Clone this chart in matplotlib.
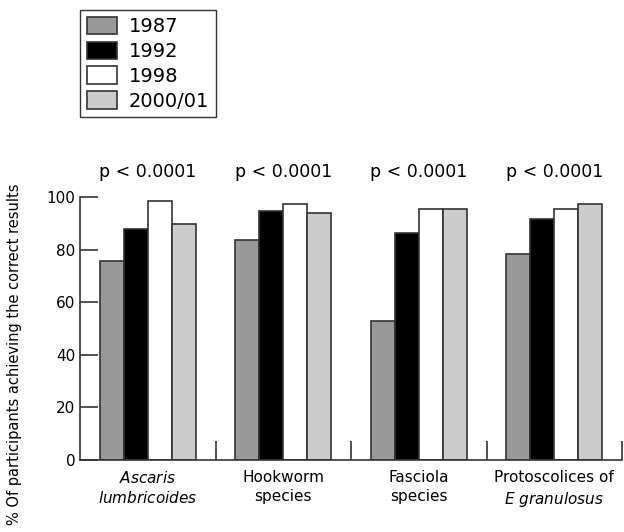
import matplotlib
matplotlib.use("Agg")
from matplotlib import pyplot as plt
from matplotlib.patches import Patch
import numpy as np

years = ['1987', '1992', '1998', '2000/01']
categories = ['$\\it{Ascaris}$\n$\\it{lumbricoides}$', 'Hookworm\nspecies',
              'Fasciola\nspecies', 'Protoscolices of\n$\\it{E\\ granulosus}$']
values_1987 = [75.5, 83.5, 52.8, 78.5]
values_1992 = [87.7, 94.8, 86.2, 91.8]
values_1998 = [98.6, 97.3, 95.5, 95.5]
values_2000 = [89.7, 93.8, 95.5, 97.3]
p_labels = ['p < 0.0001'] * 4

colors = ['#999999', '#000000', '#ffffff', '#cccccc']
edge = '#333333'

plt.rcParams['font.family'] = 'DejaVu Sans'
fig = plt.figure(figsize=(6.24, 5.32), dpi=100)
ax = fig.add_axes([80 / 624, 1 - 460 / 532, 542 / 624, 263 / 532])

x = np.arange(len(categories))
width = 0.177
series = [values_1987, values_1992, values_1998, values_2000]
for i, vals in enumerate(series):
    ax.bar(x + (i - 1.5) * width, vals, width, color=colors[i],
           edgecolor=edge, linewidth=1.2, label=years[i])

ax.set_xlim(-0.5, 3.5)
ax.set_ylim(0, 100)
ax.set_yticks(range(0, 101, 20))
ax.tick_params(axis='y', direction='in', length=13, width=1.2,
               labelsize=11, colors='#333333', labelcolor='black')

# separators between groups as major ticks, labels on minor ticks
ax.set_xticks([0.5, 1.5, 2.5, 3.5])
ax.set_xticklabels([])
ax.tick_params(axis='x', which='major', direction='in', length=14, width=1.2,
               colors='#333333')
ax.set_xticks(x, minor=True)
ax.set_xticklabels(categories, minor=True, fontsize=11, linespacing=1.35)
ax.tick_params(axis='x', which='minor', length=0, pad=7)

for s in ['top', 'right']:
    ax.spines[s].set_visible(False)
for s in ['left', 'bottom']:
    ax.spines[s].set_linewidth(1.2)
    ax.spines[s].set_color('#333333')

for xi, p in zip(x, p_labels):
    ax.text(xi, 109.5, p, ha='center', va='center', fontsize=12.5, clip_on=False)

fig.text(15 / 624, 1 - 354 / 532, '% Of participants achieving the correct results',
         rotation=90, ha='center', va='center', fontsize=10.5)

handles = [Patch(facecolor=c, edgecolor=edge, linewidth=1.2) for c in colors]
leg = fig.legend(handles, years, loc='upper left',
                 bbox_to_anchor=(80 / 624, 1 - 10 / 532), fontsize=14,
                 frameon=True, fancybox=False, borderaxespad=0,
                 handlelength=1.55, handleheight=1.0, labelspacing=0.28,
                 handletextpad=0.6, borderpad=0.35)
leg.get_frame().set_edgecolor('black')
leg.get_frame().set_linewidth(1.0)

fig.savefig('out.png', dpi=100)
